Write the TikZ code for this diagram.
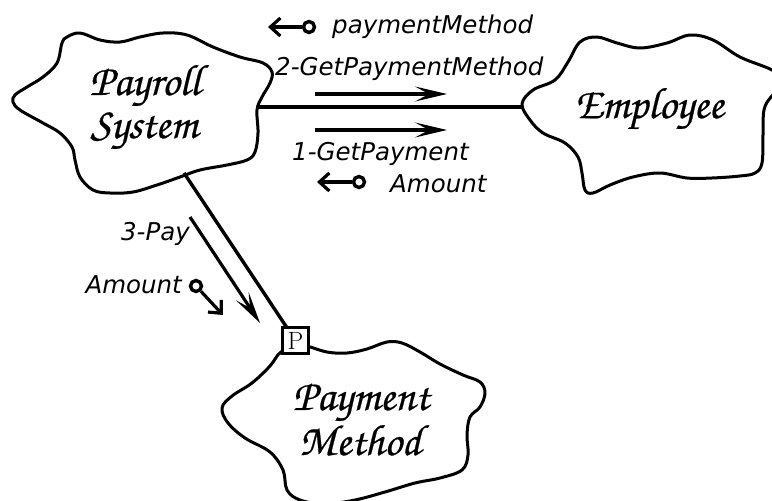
\documentclass[tikz,border=0pt]{standalone}
\usepackage{fontspec}
\newfontfamily\cloudfont[FakeBold=0.5]{texgyrechorus-mediumitalic.otf}
\newfontfamily\handfont{DejaVu Sans}
\usetikzlibrary{arrows.meta}

\tikzset{
  cloudline/.style={line width=3pt, line join=round},
  cloudtext/.style={font=\cloudfont\fontsize{44}{48}\selectfont, inner sep=0pt, anchor=base},
  msgtext/.style={font=\handfont\itshape\fontsize{24.5}{28}\selectfont, inner sep=0pt},
  linkline/.style={line width=3.4pt},
  flowarrow/.style={line width=3.2pt, -{Stealth[length=32pt,width=15pt,inset=14pt]}},
  tokenarrow/.style={line width=3.2pt, -{Straight Barb[length=10pt,width=18pt]}},
  tokenspot/.style={circle, minimum size=14pt, inner sep=0pt},
  tokenring/.style={line width=3.4pt},
  portspot/.style={rectangle, minimum size=26pt, inner sep=0pt},
  portframe/.style={line width=3pt, fill=white}
}

\begin{document}
\begin{tikzpicture}[x=1pt,y=-1pt]
\useasboundingbox (0,0) rectangle (772,501);
\clip (0,0) rectangle (772,501);

% --- class clouds -------------------------------------------------------
\draw[cloudline] plot[smooth cycle, tension=0.6] coordinates {
  (62,43) (67,37) (80,33) (100,40) (120,42) (140,37) (163,33) (187,35)
  (213,47) (240,57) (263,63) (272,72) (270,83) (262,97) (257,110)
  (258,133) (255,152) (247,160) (227,165) (200,170) (180,177) (157,185)
  (133,192) (110,193) (93,190) (80,177) (75,160) (72,147) (60,133)
  (43,123) (20,110) (13,102) (15,95) (27,87) (43,77) (57,63)};

\draw[cloudline] plot[smooth cycle, tension=0.6] coordinates {
  (522,104) (533,90) (555,80) (568,62) (580,42) (597,37) (617,43)
  (640,48) (667,43) (690,35) (713,40) (740,57) (772,70) (786,82)
  (771,97) (764,110) (763,135) (762,163) (755,173) (740,176) (712,178)
  (687,178) (660,173) (633,177) (610,185) (593,193) (585,190) (582,173)
  (578,157) (565,143) (543,133) (530,120)};

\draw[cloudline] plot[smooth cycle, tension=0.6] coordinates {
  (300,345) (327,352) (347,353) (367,349) (387,342) (402,343) (420,352)
  (440,364) (463,375) (480,382) (485,393) (480,407) (470,417) (467,435)
  (468,455) (462,470) (440,478) (415,483) (385,492) (355,500) (325,504)
  (300,500) (287,490) (283,470) (270,452) (245,438) (228,423) (222,408)
  (232,396) (252,383) (270,366) (281,352)};

\node[cloudtext] (payroll) at (145,95) {Payroll};
\node[cloudtext] (payroll2) at (144,138) {System};
\node[cloudtext] (employee) at (649,118) {Employee};
\node[cloudtext] (payment) at (361,410) {Payment};
\node[cloudtext] (payment2) at (360,455) {Method};

% --- attachment points on the cloud outlines -------------------------------
\coordinate (payroll-e) at (257,107);
\coordinate (employee-w) at (523,107);
\coordinate (payroll-s) at (184,173);

% --- links, with the port box on Payment Method ---------------------------
\node[portspot] (pbox) at (295.5,340.5) {};
\draw[linkline] (payroll-e) -- (employee-w);
\draw[linkline] (payroll-s) -- (pbox);
\draw[portframe] (pbox.south west) rectangle (pbox.north east);
\node[inner sep=0pt] (pboxlabel) at (pbox) {\fontsize{25}{27}\selectfont P};

% --- messages along Payroll -- Employee ----------------------------------
\coordinate (m2s) at (315,94);  \coordinate (m2e) at (447,94);
\coordinate (m1s) at (315,130); \coordinate (m1e) at (447,130);
\draw[flowarrow] (m2s) -- (m2e);
\draw[flowarrow] (m1s) -- (m1e);
\node[msgtext, anchor=base west] (lbl2) at (275,75) {2-GetPaymentMethod};
\node[msgtext, anchor=base west] (lbl1) at (292,160) {1-GetPayment};

\node[tokenspot] (tok1) at (309,27) {};
\draw[tokenring] (tok1) circle[radius=5.5pt];
\coordinate (tok1tip) at (268,27);
\draw[tokenarrow] (tok1) -- (tok1tip);
\node[msgtext, anchor=base west] (tok1lbl) at (332,33) {paymentMethod};

\node[tokenspot] (tok2) at (359,182) {};
\draw[tokenring] (tok2) circle[radius=5.5pt];
\coordinate (tok2tip) at (317,182);
\draw[tokenarrow] (tok2) -- (tok2tip);
\node[msgtext, anchor=base west] (tok2lbl) at (390,192) {Amount};

% --- message along Payroll -- Payment Method -----------------------------
\coordinate (m3s) at (190,217); \coordinate (m3e) at (260,323);
\draw[flowarrow] (m3s) -- (m3e);
\node[msgtext, anchor=base east] (lbl3) at (190,240) {3-Pay};

\node[tokenspot] (tok3) at (196,286) {};
\draw[tokenring] (tok3) circle[radius=5.5pt];
\coordinate (tok3tip) at (223,315);
\draw[tokenarrow] (tok3) -- (tok3tip);
\node[msgtext, anchor=base east] (tok3lbl) at (182,293) {Amount};
\end{tikzpicture}
\end{document}
